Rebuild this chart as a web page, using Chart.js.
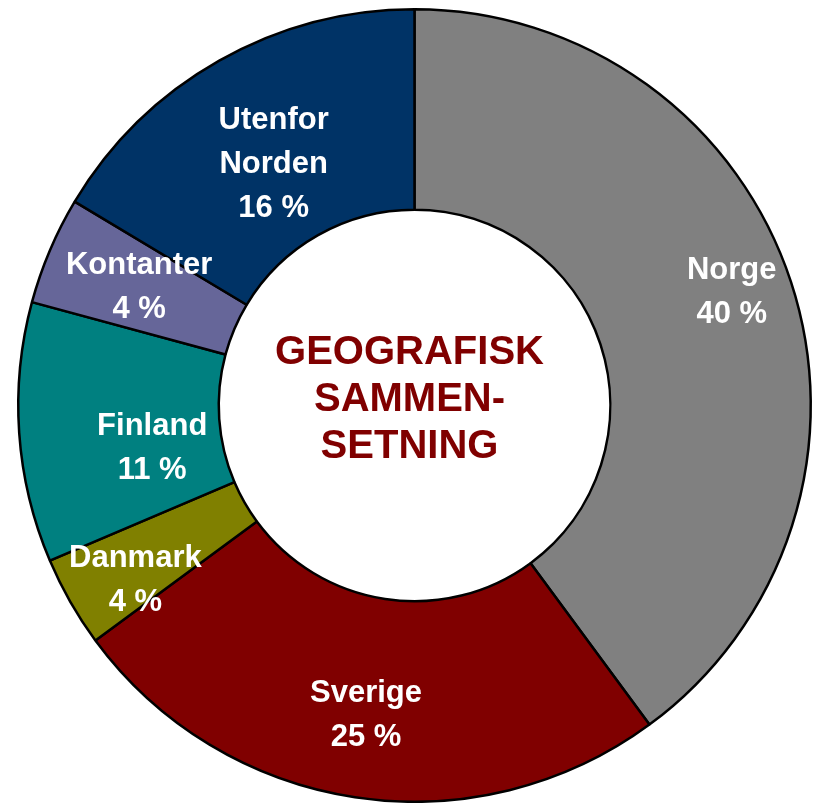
<!DOCTYPE html>
<html>
<head>
<meta charset="utf-8">
<script src="https://cdn.jsdelivr.net/npm/chart.js@4.4.1/dist/chart.umd.min.js"></script>
<style>
  html, body { margin: 0; padding: 0; background: #ffffff; }
  #wrap { position: relative; width: 817px; height: 803px; }
</style>
</head>
<body>
<div id="wrap"><canvas id="c"></canvas></div>
<script>
// ---- data ----
const categories = ['Norge', 'Sverige', 'Danmark', 'Finland', 'Kontanter', 'Utenfor Norden'];
const shares = [39.9, 25.0, 3.7, 10.6, 4.4, 16.4];
const centerTitle = ['GEOGRAFISK', 'SAMMEN-', 'SETNING'];

// ---- styling ----
const sliceColors = ['#808080', '#800000', '#808000', '#008080', '#666699', '#003366'];
const labelNudges = [[36, -21], [-4, 17], [-22, 28], [33, 23], [-3, -2], [5, 17]];

const labelPlugin = {
  id: 'sliceLabels',
  afterDatasetsDraw(chart) {
    const ctx = chart.ctx;
    const meta = chart.getDatasetMeta(0);
    ctx.save();
    ctx.fillStyle = '#ffffff';
    ctx.font = 'bold 31px "Liberation Sans", Arial, sans-serif';
    ctx.textAlign = 'center';
    ctx.textBaseline = 'middle';
    meta.data.forEach((arc, i) => {
      const p = arc.tooltipPosition(false);
      const lines = categories[i].split(' ').concat([Math.round(shares[i]) + ' %']);
      const lh = 44;
      const cx = p.x + labelNudges[i][0];
      const cy = p.y + labelNudges[i][1];
      const y0 = cy - (lines.length - 1) * lh / 2;
      lines.forEach((t, k) => ctx.fillText(t, cx, y0 + k * lh));
    });
    // center title
    const a = meta.data[0];
    ctx.fillStyle = '#800000';
    ctx.font = 'bold 40px "Liberation Sans", Arial, sans-serif';
    const lh2 = 47;
    const y0 = a.y - 6 - (centerTitle.length - 1) * lh2 / 2;
    centerTitle.forEach((t, k) => ctx.fillText(t, a.x - 5, y0 + k * lh2));
    ctx.restore();
  }
};

new Chart(document.getElementById('c'), {
  type: 'doughnut',
  data: {
    labels: categories,
    datasets: [{
      data: shares,
      backgroundColor: sliceColors,
      borderColor: '#000000',
      borderWidth: 2.5,
      hoverOffset: 0
    }]
  },
  options: {
    responsive: true,
    maintainAspectRatio: false,
    animation: false,
    cutout: '49.4%',
    layout: { padding: { left: 17, right: 5, top: 8, bottom: 0 } },
    plugins: {
      legend: { display: false },
      tooltip: { enabled: false }
    }
  },
  plugins: [labelPlugin]
});
</script>
</body>
</html>
